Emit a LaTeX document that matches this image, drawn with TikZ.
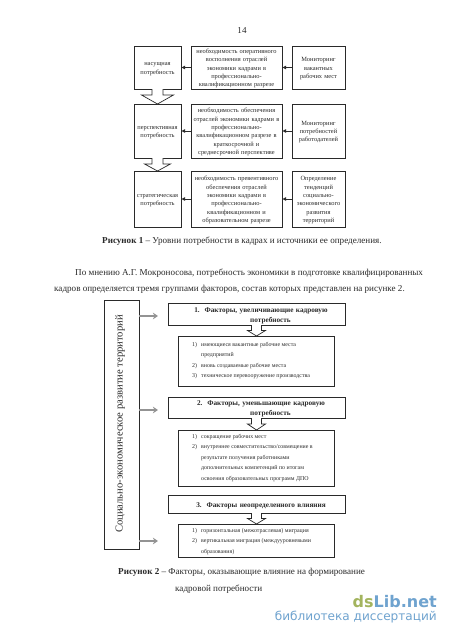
\documentclass[tikz,border=0pt]{standalone}
\usepackage{fontspec}
\setmainfont{Liberation Serif}
\newfontfamily\wmfont{DejaVu Sans}
\usetikzlibrary{calc,arrows.meta}
\definecolor{ink}{HTML}{2A2A2A}
\definecolor{wmgreen}{HTML}{A3B45E}
\definecolor{wmblue}{HTML}{6FA3CF}
\tikzset{
  x=1pt,y=-1pt,
  box/.style={draw=ink,line width=0.8pt,fill=white,inner sep=0pt,outer sep=0pt,align=center,text=ink},
  fa/.style={font=\fontsize{6.4}{8.3}\selectfont,execute at begin node={\rule{0pt}{6.5pt}}},
  fb/.style={font=\fontsize{7.25}{10}\selectfont\bfseries,execute at begin node={\rule{0pt}{8.5pt}}},
  listbox/.style={box,draw=ink,line width=0.8pt},
  listtext/.style={font=\fontsize{5.9}{10.5}\selectfont,text=ink,align=left,anchor=north west,inner sep=0pt},
  pagetext/.style={font=\fontsize{9.1}{10}\selectfont,text=ink,inner sep=0pt,anchor=base west},
  smallarr/.style={draw=ink,line width=1pt,-{Latex[length=4pt,width=4pt]}},
  grayarr/.style={draw=gray!85,line width=1.5pt,-{Stealth[length=5pt,width=6.5pt]}},
  blockarr/.style={draw=ink,line width=0.7pt,fill=white},
}
\newcommand{\blockarrow}[5]{%
  \draw[blockarr] let \p1=(#1.south),\p2=(#2.north) in
    (\x1-#3,\y1) -- (\x1-#3,{\y1*(1-#5)+\y2*#5}) -- (\x1-#4,{\y1*(1-#5)+\y2*#5}) -- (\x1,\y2)
    -- (\x1+#4,{\y1*(1-#5)+\y2*#5}) -- (\x1+#3,{\y1*(1-#5)+\y2*#5}) -- (\x1+#3,\y1);}
\begin{document}
\begin{tikzpicture}
\useasboundingbox[fill=white] (0,0) rectangle (450,637);
\node[pagetext,anchor=center] (pg) at (242,30) {14};
% Figure 1
\node[box,fa,minimum width=47pt,minimum height=43pt,text width=45pt] (a1) at (157.5,67.5) {насущная\\потребность};
\node[box,fa,minimum width=91pt,minimum height=43pt,text width=90pt] (b1) at (236.5,67.5) {необходимость оперативного\\восполнения отраслей\\экономики кадрами в\\профессионально-\\квалификационном разрезе};
\node[box,fa,minimum width=53pt,minimum height=43pt,text width=50pt] (c1) at (318.5,67.5) {Мониторинг\\вакантных\\рабочих мест};
\node[box,fa,minimum width=47pt,minimum height=54pt,text width=45pt] (a2) at (157.5,131) {перспективная\\потребность};
\node[box,fa,minimum width=91pt,minimum height=54pt,text width=90pt] (b2) at (236.5,131) {необходимость обеспечения\\отраслей экономики кадрами в\\профессионально-\\квалификационном разрезе в\\краткосрочной и\\среднесрочной перспективе};
\node[box,fa,minimum width=53pt,minimum height=54pt,text width=50pt] (c2) at (318.5,131) {Мониторинг\\потребностей\\работодателей};
\node[box,fa,minimum width=47pt,minimum height=56pt,text width=45pt] (a3) at (157.5,199) {стратегическая\\потребность};
\node[box,fa,minimum width=91pt,minimum height=56pt,text width=90pt] (b3) at (236.5,199) {необходимость превентивного\\обеспечения отраслей\\экономики кадрами в\\профессионально-\\квалификационном и\\образовательном разрезе};
\node[box,fa,minimum width=53pt,minimum height=56pt,text width=50pt] (c3) at (318.5,199) {Определение\\тенденций\\социально-\\экономического\\развития\\территорий};
\foreach \r in {1,2,3}{
  \draw[smallarr] (b\r) -- (a\r);
  \draw[smallarr] (c\r) -- (b\r);
}
\blockarrow{a1}{a2}{5.5}{16}{0.4}
\blockarrow{a2}{a3}{5.5}{13}{0.46}
\node[pagetext] (cap1) at (102,243) {\textbf{Рисунок 1} – Уровни потребности в кадрах и источники ее определения.};
\node[pagetext] (p1) at (75,275) {По мнению А.Г. Мокроносова, потребность экономики в подготовке квалифицированных};
\node[pagetext] (p2) at (54,291) {кадров определяется тремя группами факторов, состав которых представлен на рисунке 2.};
% Figure 2
\node[box,line width=1pt,minimum width=35pt,minimum height=249pt] (L) at (121.5,424.5) {};
\node[rotate=90,font=\fontsize{10.6}{12}\selectfont,text=ink,inner sep=0pt] (Lt) at (120,424) {Социально-экономическое развитие территорий};
\node[box,fb,minimum width=177pt,minimum height=22pt,text width=170pt] (f1) at (256.5,314) {\hspace*{9pt}1.\ \ Факторы, увеличивающие кадровую\\\hspace*{28pt}потребность};
\node[listbox,minimum width=156pt,minimum height=50pt] (d1) at (256,361) {};
\node[box,fb,minimum width=177pt,minimum height=21pt,text width=170pt] (f2) at (256.5,407.5) {\hspace*{9pt}2.\ \ Факторы, уменьшающие кадровую\\\hspace*{28pt}потребность};
\node[listbox,minimum width=156pt,minimum height=56pt] (d2) at (256,458) {};
\node[box,fb,minimum width=177pt,minimum height=18pt,text width=170pt] (f3) at (256.5,504) {\hspace*{9pt}3.\ \ Факторы неопределенного влияния};
\node[listbox,minimum width=156pt,minimum height=33pt] (d3) at (256,540.5) {};
\foreach \r in {1,2,3}{\blockarrow{f\r}{d\r}{5}{9}{0.5}}
\coordinate (e1) at (158,316);
\coordinate (e2) at (158,410);
\coordinate (e3) at (158,541);
\foreach \r in {1,2,3}{\draw[grayarr] (L.east |- e\r) -- (e\r);}
\node[listtext] (t1n) at (192,342) {1)\\ \\2)\\3)};
\node[listtext] (t1) at (201,342) {имеющиеся вакантные рабочие места\\предприятий\\вновь создаваемые рабочие места\\техническое перевооружение производства};
\node[listtext] (t2n) at (192,434) {1)\\2)};
\node[listtext] (t2) at (201,434) {сокращение рабочих мест\\внутреннее совместительство/совмещение в\\результате получения работниками\\дополнительных компетенций по итогам\\освоения образовательных программ ДПО};
\node[listtext] (t3n) at (192,528) {1)\\2)};
\node[listtext] (t3) at (201,528) {горизонтальная (межотраслевая) миграция\\вертикальная миграция (междууровневыми\\образования)};
\node[pagetext] (cap2a) at (118,574) {\textbf{Рисунок 2} – Факторы, оказывающие влияние на формирование};
\node[pagetext] (cap2b) at (175,591) {кадровой потребности};
% watermark
\node[font=\wmfont\fontsize{16}{18}\selectfont\bfseries,inner sep=0pt,anchor=base east] (wm1) at (437,607) {\textcolor{wmgreen}{ds}\textcolor{wmblue}{Lib.net}};
\node[font=\wmfont\fontsize{12.1}{14}\selectfont,text=wmblue,inner sep=0pt,anchor=base east] (wm2) at (437,620) {библиотека диссертаций};
\end{tikzpicture}
\end{document}
